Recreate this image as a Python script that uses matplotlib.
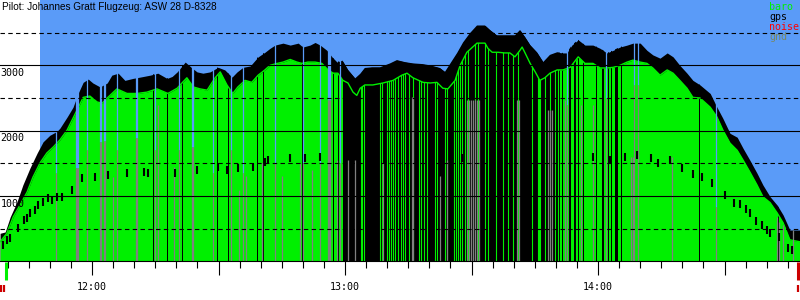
import matplotlib
matplotlib.use('Agg')
import matplotlib.pyplot as plt
import numpy as np

# time in minutes after 11:00, altitude in m
gps_t = [38.2, 39.4, 40.6, 42.2, 43.6, 45.3, 47.0, 48.4, 50.0, 51.7, 52.4, 54.1, 55.5, 56.7, 57.9, 59.1,
         60.2, 61.9, 63.6, 64.7, 66.2, 67.8, 69.7, 71.4, 73.8, 75.6, 77.8, 79.0, 80.2, 82.1, 83.7, 84.9,
         86.3, 88.0, 89.9, 91.5, 93.2, 94.4, 95.8, 97.5, 99.4, 101.0, 102.2, 103.4, 105.3, 107.0, 108.9,
         110.0, 111.7, 112.9, 114.1, 115.7, 116.9, 118.1, 119.3, 120.7, 122.4, 123.6, 124.7, 126.4, 128.3,
         130.7, 132.3, 134.2, 136.1, 138.3, 140.2, 142.5, 143.7, 144.9, 146.6, 148.0, 149.6, 151.3, 153.2,
         154.4, 156.0, 158.4, 160.3, 161.5, 162.7, 163.9, 165.5, 167.0, 168.6, 170.3, 171.7, 172.6, 173.8,
         175.3, 176.9, 178.8, 180.5, 182.1, 183.6, 185.2, 186.9, 188.3, 190.0, 191.6, 193.0, 194.7, 196.4,
         197.8, 199.4, 201.1, 202.5, 204.2, 206.6, 208.2, 209.6, 211.3, 213.0, 214.4, 216.0, 217.7, 219.1,
         220.8, 222.5, 223.9, 225.5, 227.9]
gps_alt = [430, 450, 680, 910, 1170, 1430, 1660, 1830, 1930, 1990, 2040, 2210, 2360, 2570, 2740, 2790,
           2730, 2670, 2730, 2850, 2880, 2770, 2800, 2820, 2850, 2880, 2800, 2830, 2900, 3050, 2960, 2900,
           2880, 2900, 2970, 2930, 2820, 2900, 2970, 2990, 3130, 3200, 3260, 3310, 3340, 3310, 3340,
           3280, 3310, 3350, 3310, 3230, 3130, 3050, 3080, 2930, 2800, 2870, 2960, 2970, 2970,
           3030, 3080, 3050, 3030, 3020, 3000, 2960, 2900, 3020, 3190, 3350, 3490, 3610, 3610,
           3540, 3460, 3460, 3460, 3540, 3430, 3310, 3200, 3050, 3160, 3200, 3190, 3190, 3310,
           3390, 3310, 3310, 3260, 3190, 3230, 3280, 3310, 3340, 3340, 3230, 3160, 3110, 3190,
           3130, 3000, 2880, 2770, 2700, 2570, 2360, 2190, 1960, 1900, 1730, 1550, 1350, 1170,
           990, 860, 710, 480, 480]

baro_t = [38.2, 39.8, 41.3, 42.9, 44.6, 46.0, 47.7, 49.3, 50.8, 52.4, 54.1, 56.4, 57.9, 59.5, 61.2, 62.4,
          63.6, 65.9, 68.3, 70.7, 73.0, 75.4, 78.0, 80.2, 80.9, 82.5, 84.0, 85.6, 87.3, 89.2, 90.4, 92.0,
          93.4, 94.6, 96.3, 97.9, 99.4, 101.0, 102.2, 103.9, 105.3, 107.0, 108.6, 109.8, 111.2, 112.9,
          114.5, 116.0, 117.2, 118.3, 119.5, 120.7, 121.9, 122.8, 123.6, 124.7, 126.6, 129.0, 131.4,
          133.5, 134.7, 136.1, 138.5, 140.2, 141.8, 143.2, 144.4, 146.1, 147.3, 148.9, 151.3, 153.2,
          153.9, 154.9, 156.3, 157.9, 159.1, 160.3, 161.5, 162.0, 162.7, 163.9, 165.1, 166.2, 167.4,
          168.6, 170.3, 171.7, 173.4, 175.3, 176.9, 178.8, 180.5, 182.1, 183.6, 185.2, 186.9, 188.3,
          190.0, 191.6, 193.0, 194.7, 196.4, 197.8, 199.4, 201.1, 202.5, 204.2, 206.6, 208.2, 209.6,
          211.3, 213.0, 214.4, 216.0, 217.7, 219.1, 220.8, 222.5, 223.9, 225.5, 227.9]
baro_alt = [300, 430, 680, 860, 1060, 1290, 1510, 1660, 1750, 1860, 2010, 2310, 2510, 2530, 2440, 2420,
            2500, 2640, 2570, 2570, 2590, 2640, 2570, 2650, 2700, 2810, 2670, 2640, 2620, 2810, 2900, 2700,
            2570, 2670, 2770, 2740, 2850, 2930, 3000, 3030, 3050, 3090, 3050, 3030, 3050, 3050,
            3030, 2930, 2880, 2880, 2770, 2730, 2590, 2540, 2650, 2700, 2700, 2730, 2770,
            2850, 2880, 2810, 2740, 2730, 2740, 2650, 2640, 2770, 3000, 3200, 3340, 3340,
            3260, 3200, 3200, 3190, 3190, 3130, 3230, 3280, 3190, 3030, 2900, 2770, 2810,
            2880, 2930, 2930, 2970, 3130, 3030, 3030, 2960, 2960, 2970, 3000, 3050, 3080,
            3050, 3030, 2960, 2850, 2930, 2880, 2770, 2650, 2510, 2500, 2360, 2210, 2010,
            1810, 1700, 1550, 1370, 1170, 990, 900, 740, 590, 330, 300]

# stretches where the baro trace drops out (gps shows through)
dark_spans = [(74.5, 74.7), (77.8, 78.0), (81.3, 81.5), (89.6, 89.8), (92.3, 92.5), (99.1, 99.3),
              (100.5, 100.7), (109.8, 110.0), (117.1, 117.3), (118.3, 118.5), (119.5, 171.0),
              (171.5, 171.7), (173.1, 173.6), (174.3, 174.8), (175.3, 175.5), (176.4, 176.7),
              (179.5, 179.8), (180.9, 181.4), (182.4, 182.6), (183.1, 183.3), (184.0, 184.7),
              (185.5, 185.7), (204.0, 204.2), (222.7, 222.9)]
# single baro samples inside the dropout stretch
green_t = [123.8, 124.0, 124.5, 128.3, 128.8, 130.0, 130.4, 130.9, 131.4, 131.9, 132.6, 133.3, 133.8,
           134.2, 135.2, 136.1, 137.5, 138.0, 138.7, 139.4, 141.3, 141.8, 143.7, 144.2, 145.9, 146.3,
           146.8, 147.3, 147.7, 148.5, 149.2, 150.8, 151.5, 153.2, 153.9, 155.8, 157.5, 158.7, 159.8,
           161.0, 164.3, 165.8, 166.0, 166.2, 167.4, 168.6, 169.8, 170.5]
# both traces missing: sky down to ground
sky_t = [51.5, 56.2, 56.4, 56.6, 58.8, 61.9, 62.1, 62.8, 63.1, 65.9, 70.4, 70.7, 74.9, 80.6, 83.7, 84.0,
         88.7, 92.9, 95.8, 103.4, 110.0, 114.1, 116.0, 116.3, 116.5, 118.8, 172.6, 181.9, 188.5, 189.5,
         208.0]
sky_gnd = [1350, 1430, 1430, 1430, 1700, 1830, 1830, 1850, 1850, 1700, 1890, 1890, 1700, 1700, 1750, 1750,
           1350, 1700, 1350, 1500, 1500, 1500, 2470, 2470, 2470, 1500, 2400, 2500, 2700, 2700,
           830]
gnd_t = [64.9, 75.6, 79.4, 94.9, 96.5, 100.3, 105.1, 109.3, 112.2, 118.1, 120.7, 122.4, 129.0, 135.9,
         136.1, 142.5, 144.2, 148.9, 149.4, 149.9, 150.3, 150.8, 151.3, 151.7, 160.8, 161.2, 168.1,
         168.6, 169.1, 172.2, 176.0, 178.8, 187.8, 188.3, 197.5, 222.4, 222.9, 223.9, 226.2]
gnd_alt = [1290, 2400, 1440, 1090, 1300, 1500, 1300, 1500, 1400, 1550, 1550, 1550, 1500, 2510,
           2510, 1300, 1550, 2470, 2470, 2470, 2470, 2470, 2470, 2470, 2470, 2470, 2310,
           2310, 2310, 2470, 2400, 2400, 1600, 1600, 1600, 680, 600, 550, 480]

# short black marks
dash_t = [38.9, 39.8, 40.6, 42.5, 43.9, 44.6, 45.3, 46.5, 47.2, 48.4, 49.6, 50.5, 51.7, 52.9, 55.3,
          57.6, 60.7, 63.8, 68.3, 72.3, 73.3, 79.7, 84.9, 89.9, 92.0, 94.6, 98.2, 101.0, 101.7, 106.9,
          110.5, 114.1, 147.7, 178.8, 182.8, 186.4, 189.2, 192.5, 194.2, 197.1, 199.9, 202.5, 204.7,
          207.0, 210.1, 212.2, 213.7, 215.1, 216.0, 217.5, 218.9, 220.1, 220.8, 222.9, 225.1, 226.0]
dash_alt = [250, 330, 360, 510, 630, 660, 740, 790, 860, 910, 970, 940, 980, 980, 1090,
            1280, 1290, 1320, 1350, 1370, 1350, 1350, 1400, 1440, 1400, 1430, 1440, 1520, 1550, 1580,
            1580, 1600, 1580, 1600, 1550, 1600, 1630, 1580, 1500, 1550, 1430, 1340, 1290,
            1200, 1020, 890, 880, 800, 740, 620, 560, 480, 430, 370, 200, 170]

sky_start = 47.7
takeoff = 39.5
landing = 227.5
noise_t = [38.4, 39.2]

title = 'Pilot: Johannes Gratt Flugzeug: ASW 28 D-8328'
legend_names = ['baro', 'gps', 'noise', 'gnd']
hour_ticks = [60, 90, 120, 150, 180, 210]
hour_labels = ['12:00', '', '13:00', '', '14:00', '']

SKY = '#5a9bf8'
GREEN = '#00f000'
GND = '#808080'
RED = '#cc0000'
legend_colors = [GREEN, 'black', 'red', '#778866']

t0, t1 = 38.18, 227.9

fig = plt.figure(figsize=(8, 3), dpi=100)
axh = 261.4 / 300
ax = fig.add_axes([0, 1 - axh, 1, axh])
ax.set_xlim(t0, t1)
ax.set_ylim(0, 4000)
ax.set_facecolor('white')

ax.axvspan(sky_start, t1, color=SKY, lw=0, zorder=0)
gps_fill = ax.fill_between(gps_t, 0, gps_alt, color='black', lw=0, zorder=1)
baro_fill = ax.fill_between(baro_t, 0, baro_alt, color=GREEN, lw=0, zorder=2)

gps_path = gps_fill.get_paths()[0]
baro_path = baro_fill.get_paths()[0]

for a, b in dark_spans:
    sp = ax.axvspan(a, b, color='black', lw=0, zorder=3)
    sp.set_clip_path(gps_path, ax.transData)

gl = ax.vlines(green_t, 0, 4000, color=GREEN, lw=0.8, zorder=4)
gl.set_clip_path(baro_path, ax.transData)
ax.plot(baro_t, baro_alt, color=GREEN, lw=1.0, zorder=4)

ax.vlines(sky_t, sky_gnd, 4000, color=SKY, lw=0.9, zorder=5)
ax.vlines(sky_t, 0, sky_gnd, color=GND, lw=0.9, zorder=5)
ax.vlines(gnd_t, 0, gnd_alt, color=GND, lw=0.9, zorder=5)

dash_alt = np.array(dash_alt)
ax.vlines(dash_t, dash_alt - 60, dash_alt + 60, color='black', lw=1.5, zorder=6)

for a in [1000, 2000, 3000]:
    ax.axhline(a, color='black', lw=0.8, zorder=7)
    ax.annotate(str(a), xy=(0, a), xycoords=('axes fraction', 'data'), xytext=(0.5, -7.7),
                textcoords='offset points', va='baseline', ha='left',
                family='DejaVu Sans Mono', fontsize=7.2, zorder=8)
for a in [500, 1500, 2500, 3500]:
    ax.axhline(a, color='black', lw=0.8, ls=(0, (4, 3)), zorder=7)

# takeoff / landing markers under the axis
xt = ax.get_xaxis_transform()
ax.vlines(takeoff, -0.071, -0.002, transform=xt, color=GREEN, lw=2.2, clip_on=False)
ax.vlines(noise_t, -0.117, -0.090, transform=xt, color=RED, lw=1.6, clip_on=False)
ax.vlines(landing, -0.071, -0.002, transform=xt, color=RED, lw=2.2, clip_on=False)
ax.vlines(landing, -0.117, -0.090, transform=xt, color=RED, lw=1.6, clip_on=False)

for s in ['top', 'left', 'right']:
    ax.spines[s].set_visible(False)
ax.spines['bottom'].set_linewidth(0.8)
ax.spines['bottom'].set_zorder(8)
ax.set_yticks([])
ax.set_xticks(hour_ticks)
ax.set_xticklabels(hour_labels, family='DejaVu Sans Mono', fontsize=7.2)
ax.set_xticks(np.arange(40, 228, 5), minor=True)
ax.tick_params(axis='x', which='major', length=10, width=0.8, pad=5)
ax.tick_params(axis='x', which='minor', length=5, width=0.8)

fig.text(0.002, 1 - 10.5 / 300, title, family='Liberation Sans', fontsize=7.2, va='baseline')
for i, (name, c) in enumerate(zip(legend_names, legend_colors)):
    fig.text(769 / 800, 1 - (10 + 10 * i) / 300, name, color=c, family='DejaVu Sans Mono',
             fontsize=7.2, va='baseline', ha='left')

fig.savefig('out.png', dpi=100)
